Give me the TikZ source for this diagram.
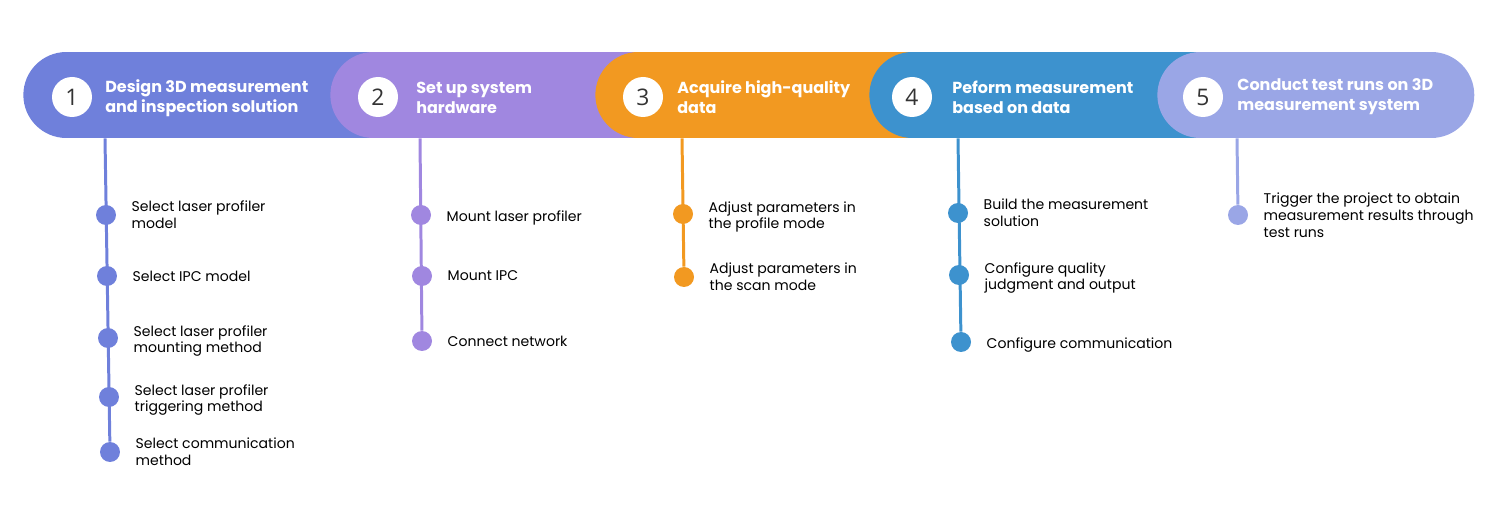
\documentclass[tikz,border=0pt]{standalone}
\usepackage{fontspec}
\setmainfont{Poppins}
\newfontfamily\numfont{Open Sans}
\usetikzlibrary{shapes.misc}
\usetikzlibrary{positioning}
\definecolor{stepA}{RGB}{111,128,219}
\definecolor{stepB}{RGB}{160,135,224}
\definecolor{stepC}{RGB}{242,153,33}
\definecolor{stepD}{RGB}{61,146,206}
\definecolor{stepE}{RGB}{154,166,230}
\tikzstyle{pill} = [rounded rectangle, minimum height=1.72cm, inner sep=0pt, anchor=west]
\tikzstyle{num} = [circle, fill=white, minimum size=0.8cm, inner sep=0pt, text=black!80, font=\numfont\fontsize{13}{13}\selectfont]
\tikzstyle{title} = [anchor=west, align=left, inner sep=0pt, text=white, font=\bfseries\fontsize{9.1}{11.3}\selectfont]
\tikzstyle{dot} = [circle, minimum size=0.4cm, inner sep=0pt]
\tikzstyle{item} = [align=left, inner sep=0pt, font=\fontsize{8}{9.6}\selectfont]
\tikzstyle{lowitem} = [item, yshift=-1.7pt]
\tikzstyle{stem} = [line width=1.7pt]

\begin{document}
\begin{tikzpicture}[x=0.02cm, y=-0.02cm, node distance=0.3cm]
\useasboundingbox (0,0) rectangle (1504,509);

\node (p1) [pill, fill=stepA, minimum width=7.86cm] at (23,95) {};
\node (p2) [pill, fill=stepB, minimum width=7.02cm] at (330,95) {};
\node (p3) [pill, fill=stepC, minimum width=7.2cm] at (595,95) {};
\node (p4) [pill, fill=stepD, minimum width=7.46cm] at (869,95) {};
\node (p5) [pill, fill=stepE, minimum width=6.34cm] at (1157,95) {};

\node (n1) [num] at (72,97) {1};
\node (n2) [num] at (378,97) {2};
\node (n3) [num] at (643,97) {3};
\node (n4) [num] at (912,97) {4};
\node (n5) [num] at (1203,97) {5};

\node (t1) [title] at (105,98) {Design 3D measurement\\and inspection solution};
\node (t2) [title] at (416,98) {Set up system\\hardware};
\node (t3) [title] at (677,97) {Acquire high-quality\\data};
\node (t4) [title] at (952,97) {Peform measurement\\based on data};
\node (t5) [title] at (1237,97) {Conduct test runs on 3D\\measurement system};

% step 1
\node (d11) [dot, fill=stepA] at (106,215) {};
\node (d12) [dot, fill=stepA] at (107,276) {};
\node (d13) [dot, fill=stepA] at (108,338) {};
\node (d14) [dot, fill=stepA] at (109,397) {};
\node (d15) [dot, fill=stepA] at (110,452) {};
\draw[stem, stepA] (105,0 |- p1.south) -- (d15);
\node (i11) [item, right=of d11] {Select laser profiler\\model};
\node (i12) [item, right=of d12] {Select IPC model};
\node (i13) [lowitem, right=of d13] {Select laser profiler\\mounting method};
\node (i14) [lowitem, right=of d14] {Select laser profiler\\triggering method};
\node (i15) [item, right=of d15] {Select communication\\method};

% step 2
\node (d21) [dot, fill=stepB] at (421,215) {};
\node (d22) [dot, fill=stepB] at (422,276) {};
\node (d23) [dot, fill=stepB] at (422,341) {};
\draw[stem, stepB] (420,0 |- p2.south) -- (d23);
\node (i21) [lowitem, right=of d21] {Mount laser profiler};
\node (i22) [item, right=of d22] {Mount IPC};
\node (i23) [item, right=of d23] {Connect network};

% step 3
\node (d31) [dot, fill=stepC] at (683,214) {};
\node (d32) [dot, fill=stepC] at (684,277) {};
\draw[stem, stepC] (682,0 |- p3.south) -- (d32);
\node (i31) [lowitem, right=of d31] {Adjust parameters in\\the profile mode};
\node (i32) [item, right=of d32] {Adjust parameters in\\the scan mode};

% step 4
\node (d41) [dot, fill=stepD] at (958,213) {};
\node (d42) [dot, fill=stepD] at (959,275) {};
\node (d43) [dot, fill=stepD] at (961,342) {};
\draw[stem, stepD] (958,0 |- p4.south) -- (d43);
\node (i41) [item, right=of d41] {Build the measurement\\solution};
\node (i42) [lowitem, right=of d42] {Configure quality\\judgment and output};
\node (i43) [lowitem, right=of d43] {Configure communication};

% step 5
\node (d51) [dot, fill=stepE] at (1238,215) {};
\draw[stem, stepE] (1237,0 |- p5.south) -- (d51);
\node (i51) [item, right=of d51] {Trigger the project to obtain\\measurement results through\\test runs};
\end{tikzpicture}
\end{document}
